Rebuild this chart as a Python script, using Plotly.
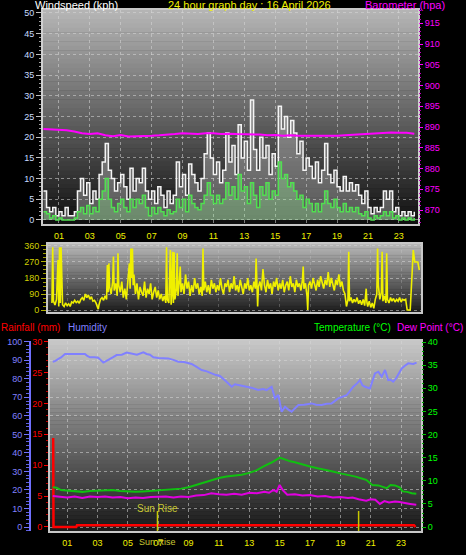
import plotly.graph_objects as go

W, H = 466, 555
FONT = "Liberation Sans"

# ---------------- data ----------------
HOUR_TICKS = [1, 3, 5, 7, 9, 11, 13, 15, 17, 19, 21, 23]
HOUR_LABELS = ["01", "03", "05", "07", "09", "11", "13", "15", "17", "19", "21", "23"]

WIND_HOURS = [
    0.0, 0.2, 0.4, 0.6, 0.8, 1.0, 1.2, 1.4, 1.6, 1.8,
    2.0, 2.2, 2.4, 2.6, 2.8, 3.0, 3.2, 3.4, 3.6, 3.8,
    4.0, 4.2, 4.4, 4.6, 4.8, 5.0, 5.2, 5.4, 5.6, 5.8,
    6.0, 6.2, 6.4, 6.6, 6.8, 7.0, 7.2, 7.4, 7.6, 7.8,
    8.0, 8.2, 8.4, 8.6, 8.8, 9.0, 9.2, 9.4, 9.6, 9.8,
    10.0, 10.2, 10.4, 10.6, 10.8, 11.0, 11.2, 11.4, 11.6, 11.8,
    12.0, 12.2, 12.4, 12.6, 12.8, 13.0, 13.2, 13.4, 13.6, 13.8,
    14.0, 14.2, 14.4, 14.6, 14.8, 15.0, 15.2, 15.4, 15.6, 15.8,
    16.0, 16.2, 16.4, 16.6, 16.8, 17.0, 17.2, 17.4, 17.6, 17.8,
    18.0, 18.2, 18.4, 18.6, 18.8, 19.0, 19.2, 19.4, 19.6, 19.8,
    20.0, 20.2, 20.4, 20.6, 20.8, 21.0, 21.2, 21.4, 21.6, 21.8,
    22.0, 22.2, 22.4, 22.6, 22.8, 23.0, 23.2, 23.4, 23.6, 23.8,
    24.0,
]
WIND_GUST = [
    7, 3, 2, 3, 1, 2, 1, 3, 1, 1,
    2, 7, 10, 6, 9, 4, 7, 5, 11, 14,
    18.5, 12, 10, 7, 9, 11, 8, 5, 12.5, 7,
    10, 9, 12.5, 7, 5, 7, 4, 8, 6, 3,
    7, 4, 6, 14, 8, 11, 6, 13.5, 11, 9,
    7, 10, 16, 21, 15, 11, 14, 9, 12, 21,
    14, 18, 11, 23, 15, 19, 12, 29, 17, 12,
    20, 15, 18, 11, 16, 13, 27.5, 22, 25, 20,
    24, 21, 16, 19, 12, 15, 13, 10, 14, 9,
    12, 18.5, 11, 9, 12, 8, 7, 10.5, 7, 9,
    7, 8.5, 6, 4, 7, 3, 1.5, 3, 2, 3,
    7, 5, 7, 2, 3, 1, 2, 1, 2, 1,
    2,
]
WIND_SPEED = [
    2, 1.5, 0.5, 1, 0, 0.5, 0, 0, 0, 0,
    0.5, 2, 3, 1.5, 3.5, 1.5, 3, 2, 5, 7,
    10, 5, 3, 2, 4, 5, 3, 2, 5, 3,
    5, 4, 6, 3, 1, 3, 1.5, 3, 2, 1,
    2.5, 1.5, 2, 5, 3, 5, 2, 6, 4, 3,
    2.5, 4, 6, 9, 6, 4, 6, 4, 5, 9,
    6, 8, 5, 11, 7, 8, 4, 9, 6, 3,
    8, 6, 9, 5, 7, 6, 14, 10, 11, 8,
    9, 7, 5, 6, 3, 5, 4, 2, 4, 2,
    4, 7, 4, 3, 5, 3, 2, 4, 2, 3,
    2, 3, 1.5, 1, 2, 0.5, 0, 1, 0.5, 1,
    2, 1, 2, 0.5, 1, 0, 0.5, 0, 0.5, 0,
    0.5,
]

BARO_HOURS = [0.0, 0.5, 1.0, 1.5, 2.0, 2.5, 3.0, 3.5, 4.0, 4.5, 5.0, 5.5, 6.0, 6.5, 7.0, 7.5,
              8.0, 8.5, 9.0, 9.5, 10.0, 10.5, 11.0, 11.5, 12.0, 12.5, 13.0, 13.5, 14.0, 14.5,
              15.0, 15.5, 16.0, 16.5, 17.0, 17.5, 18.0, 18.5, 19.0, 19.5, 20.0, 20.5, 21.0,
              21.5, 22.0, 22.5, 23.0, 23.5, 24.0]
BARO_HPA = [889.5, 889.4, 889.3, 889.2, 888.9, 888.5, 888.3, 888.5, 888.0, 887.8, 888.1, 887.7,
            887.8, 887.8, 887.9, 888.0, 888.1, 888.3, 888.5, 888.4, 888.3, 888.5, 888.5, 888.3,
            888.4, 888.3, 888.3, 888.2, 888.2, 888.0, 888.1, 887.9, 888.0, 887.9, 887.9, 887.8,
            887.9, 887.8, 887.9, 888.0, 888.1, 888.2, 888.3, 888.5, 888.5, 888.7, 888.6, 888.6,
            888.4]

DIR_PTS = [
    (0.0, 40), (0.05, 352), (0.1, 50), (0.2, 28), (0.3, 60), (0.4, 281), (0.45, 20), (0.5, 352),
    (0.55, 40), (0.6, 352), (0.7, 30), (0.8, 20), (0.9, 40), (1.0, 25), (1.1, 35), (1.2, 20),
    (1.3, 45), (1.4, 40), (1.5, 55), (1.6, 42), (1.7, 50), (1.8, 38), (1.9, 60), (2.0, 70),
    (2.1, 55), (2.2, 90), (2.3, 70), (2.4, 85), (2.5, 60), (2.6, 75), (2.7, 50), (2.8, 55),
    (2.9, 40), (3.0, 20), (3.05, 5), (3.1, 30), (3.2, 60), (3.3, 70), (3.4, 55), (3.5, 80),
    (3.6, 60), (3.65, 253), (3.7, 100), (3.75, 262), (3.8, 130), (3.9, 90), (4.0, 160),
    (4.05, 300), (4.1, 110), (4.2, 150), (4.3, 80), (4.35, 319), (4.4, 140), (4.5, 100),
    (4.6, 160), (4.7, 70), (4.8, 120), (4.9, 60), (5.0, 150), (5.1, 262), (5.15, 120),
    (5.2, 346), (5.25, 180), (5.3, 346), (5.35, 140), (5.4, 200), (5.5, 90), (5.6, 150),
    (5.7, 60), (5.8, 130), (5.9, 100), (6.0, 80), (6.1, 160), (6.2, 70), (6.3, 120), (6.4, 90),
    (6.5, 150), (6.6, 60), (6.7, 100), (6.8, 130), (6.9, 70), (7.0, 110), (7.1, 60), (7.2, 90),
    (7.3, 50), (7.4, 80), (7.5, 40), (7.55, 352), (7.6, 60), (7.7, 40), (7.8, 337), (7.85, 30),
    (7.9, 100), (7.95, 328), (8.0, 40), (8.05, 325), (8.1, 60), (8.2, 120), (8.25, 319),
    (8.3, 80), (8.4, 170), (8.45, 244), (8.5, 100), (8.6, 150), (8.7, 90), (8.8, 200),
    (8.9, 120), (9.0, 160), (9.1, 80), (9.2, 140), (9.3, 100), (9.4, 180), (9.5, 120),
    (9.6, 150), (9.7, 90), (9.8, 130), (9.9, 80), (9.95, 346), (10.0, 110), (10.1, 160),
    (10.2, 100), (10.3, 140), (10.4, 90), (10.5, 170), (10.6, 120), (10.7, 150), (10.8, 100),
    (10.9, 140), (11.0, 110), (11.1, 180), (11.2, 120), (11.3, 90), (11.4, 150), (11.5, 130),
    (11.6, 170), (11.7, 100), (11.8, 150), (11.9, 120), (12.0, 190), (12.1, 110), (12.2, 140),
    (12.3, 100), (12.4, 170), (12.5, 130), (12.6, 90), (12.7, 150), (12.8, 120), (12.9, 180),
    (13.0, 110), (13.1, 140), (13.2, 100), (13.3, 160), (13.4, 120), (13.45, 290), (13.5, 70),
    (13.55, 20), (13.6, 130), (13.7, 160), (13.8, 110), (13.9, 230), (14.0, 140), (14.1, 100),
    (14.2, 170), (14.3, 120), (14.4, 150), (14.5, 90), (14.6, 160), (14.7, 130), (14.8, 180),
    (14.9, 110), (15.0, 150), (15.1, 120), (15.2, 170), (15.3, 100), (15.4, 140), (15.5, 160),
    (15.6, 110), (15.7, 190), (15.8, 130), (15.9, 150), (16.0, 100), (16.1, 170), (16.2, 130),
    (16.3, 150), (16.4, 110), (16.5, 170), (16.55, 244), (16.6, 120), (16.7, 150), (16.8, 80),
    (16.85, 0), (16.9, 140), (17.0, 160), (17.1, 120), (17.2, 180), (17.3, 140), (17.4, 110),
    (17.5, 170), (17.6, 130), (17.7, 190), (17.8, 150), (17.9, 120), (18.0, 170), (18.1, 140),
    (18.2, 213), (18.3, 130), (18.4, 180), (18.5, 150), (18.6, 110), (18.7, 170), (18.8, 140),
    (18.9, 200), (19.0, 130), (19.1, 160), (19.2, 110), (19.3, 90), (19.4, 20), (19.5, 60),
    (19.55, 328), (19.6, 50), (19.7, 70), (19.8, 40), (19.9, 60), (20.0, 45), (20.1, 70),
    (20.2, 35), (20.3, 55), (20.4, 30), (20.5, 60), (20.6, 25), (20.7, 120), (20.75, 40),
    (20.8, 20), (20.9, 50), (21.0, 15), (21.1, 40), (21.2, 10), (21.3, 60), (21.4, 90),
    (21.45, 346), (21.5, 140), (21.6, 60), (21.7, 100), (21.75, 328), (21.8, 50), (21.9, 80),
    (22.0, 40), (22.05, 319), (22.1, 60), (22.2, 40), (22.3, 70), (22.4, 50), (22.5, 65),
    (22.6, 45), (22.7, 60), (22.8, 50), (22.9, 70), (23.0, 45), (23.1, 60), (23.2, 55),
    (23.3, 60), (23.4, 0), (23.6, 0), (23.7, 169), (23.8, 337), (23.9, 270), (24.1, 270),
    (24.2, 225),
]

HUM_PTS = [
    (0.05, 89.2), (0.2, 89.5), (0.4, 90.6), (0.6, 91.5), (0.86, 93.4), (1.2, 93.4), (1.6, 93.4),
    (2.0, 93.4), (2.17, 93.4), (2.3, 92.5), (2.5, 91.6), (2.8, 91.6), (3.05, 91.3), (3.2, 90.2),
    (3.38, 88.7), (3.5, 89.2), (3.71, 90.0), (4.0, 91.5), (4.26, 92.8), (4.6, 93.0), (4.92, 94.1),
    (5.25, 93.4), (5.6, 93.0), (6.02, 94.3), (6.24, 93.4), (6.45, 93.0), (6.68, 91.6), (7.0, 91.2),
    (7.3, 91.2), (7.66, 91.0), (8.0, 90.2), (8.32, 89.2), (8.7, 89.0), (9.2, 88.0), (9.5, 86.5),
    (9.86, 84.7), (10.2, 84.0), (10.52, 82.9), (10.8, 82.0), (11.07, 81.5), (11.3, 80.0),
    (11.5, 78.4), (11.84, 75.7), (12.05, 77.0), (12.27, 76.6), (12.6, 76.0), (12.93, 75.7),
    (13.2, 75.0), (13.59, 73.9), (13.9, 74.5), (14.14, 73.9), (14.3, 75.0), (14.47, 75.7),
    (14.69, 69.4), (14.91, 71.2), (15.13, 62.2), (15.35, 64.9), (15.55, 63.5), (15.79, 62.2),
    (16.0, 64.0), (16.23, 65.8), (16.6, 66.0), (17.1, 66.7), (17.4, 66.0), (17.77, 65.8),
    (18.1, 66.5), (18.42, 66.7), (18.86, 69.4), (19.2, 70.5), (19.41, 71.2), (19.6, 73.0),
    (19.85, 75.7), (20.1, 77.5), (20.29, 79.3), (20.45, 76.5), (20.62, 75.7), (20.95, 74.8),
    (21.1, 78.0), (21.28, 82.9), (21.5, 83.8), (21.72, 81.1), (21.94, 84.7), (22.15, 79.3),
    (22.3, 79.5), (22.48, 78.4), (22.65, 80.0), (22.81, 82.0), (23.04, 85.6), (23.25, 87.0),
    (23.47, 88.3), (23.8, 88.0), (24.02, 88.7),
]

TEMP_PTS = [
    (0.05, 8.6), (0.3, 8.5), (0.6, 8.0), (1.0, 7.9), (1.5, 7.8), (2.0, 7.6), (2.5, 7.8),
    (3.0, 7.9), (3.5, 8.0), (4.0, 8.0), (4.5, 7.8), (5.0, 7.7), (5.5, 7.6), (6.0, 7.7),
    (6.5, 7.8), (7.0, 7.9), (7.5, 8.0), (8.0, 8.1), (8.5, 8.3), (9.0, 8.6), (9.5, 9.1),
    (10.0, 9.7), (10.5, 10.2), (11.0, 10.6), (11.5, 10.9), (12.0, 11.1), (12.5, 11.3),
    (13.0, 11.7), (13.5, 12.3), (14.0, 13.2), (14.5, 14.0), (15.0, 15.0), (15.3, 14.6),
    (15.7, 14.2), (16.0, 14.0), (16.5, 13.5), (17.0, 13.1), (17.5, 12.7), (18.0, 12.4),
    (18.5, 12.0), (19.0, 11.6), (19.5, 11.3), (20.0, 10.9), (20.4, 10.5), (20.7, 10.2),
    (21.1, 9.1), (21.5, 9.0), (22.05, 8.4), (22.3, 9.1), (22.6, 9.0), (22.9, 8.6), (23.1, 7.7),
    (23.4, 7.6), (23.7, 7.3), (24.0, 7.2),
]

DEW_PTS = [
    (0.05, 6.7), (0.5, 6.6), (1.0, 6.4), (1.5, 6.6), (2.0, 6.3), (2.5, 6.6), (3.0, 6.5),
    (3.5, 6.6), (4.0, 6.4), (4.5, 6.5), (5.0, 6.2), (5.5, 6.4), (6.0, 6.3), (6.5, 6.5),
    (7.0, 6.6), (7.5, 6.6), (8.0, 6.4), (8.5, 6.6), (9.0, 6.5), (9.5, 6.8), (10.0, 6.9),
    (10.5, 7.3), (11.0, 7.1), (11.5, 7.0), (12.0, 7.2), (12.5, 7.0), (13.0, 7.4), (13.5, 7.3),
    (14.0, 7.6), (14.3, 7.4), (14.6, 8.0), (14.8, 7.6), (15.0, 9.1), (15.2, 8.0), (15.5, 7.0),
    (16.0, 7.1), (16.5, 6.8), (17.0, 6.9), (17.5, 6.6), (18.0, 6.7), (18.5, 6.4), (19.0, 6.5),
    (19.5, 6.3), (19.8, 6.4), (20.2, 6.0), (20.5, 5.8), (20.7, 5.7), (21.0, 6.0), (21.3, 5.9),
    (21.6, 5.0), (21.9, 5.6), (22.2, 5.3), (22.6, 5.5), (22.9, 5.4), (23.3, 5.1), (23.6, 5.0),
    (24.0, 4.8),
]

RAIN_HOURS = [0.0, 0.08, 0.1, 1.6, 1.65, 23.85, 23.95]
RAIN_MM = [14.2, 14.2, 0.0, 0.0, 0.3, 0.3, 0.0]

SUNRISE_H = 6.95
SUNSET_H = 20.2
CHART_TITLE = "24 hour graph day : 16 April 2026"

# ---------------- layout helpers ----------------
def fx(p):
    return p / W


def fy(p):
    return 1 - p / H


TOP = (43, 418, 10, 224)
MID = (48, 421, 244, 312)
BOT = (50, 421, 341, 531)

GRID = "rgba(215,215,215,0.55)"


def gradient(panel, c_top, c_bot, n=48):
    l, r, t, b = panel
    shapes = []
    h = (b - t) / n
    for i in range(n):
        f = (i + 0.5) / n
        c = [round(c_top[k] + (c_bot[k] - c_top[k]) * f) for k in range(3)]
        shapes.append(dict(type="rect", xref="paper", yref="paper", layer="below",
                           x0=fx(l), x1=fx(r), y0=fy(t + (i + 1) * h + 0.5), y1=fy(t + i * h),
                           fillcolor="rgb(%d,%d,%d)" % tuple(c), line=dict(width=0)))
    return shapes


def unz(pts):
    return [p[0] for p in pts], [p[1] for p in pts]


fig = go.Figure()

# top panel traces
fig.add_trace(go.Scatter(x=WIND_HOURS, y=WIND_GUST, mode="lines", line_shape="hv",
                         line=dict(color="#f4f4f4", width=1.5), fill="tozeroy",
                         fillcolor="rgba(215,215,215,0.35)", xaxis="x", yaxis="y"))
fig.add_trace(go.Scatter(x=WIND_HOURS, y=WIND_SPEED, mode="lines", line_shape="hv",
                         line=dict(color="#50e050", width=1.5), fill="tozeroy",
                         fillcolor="rgba(160,255,160,0.30)", xaxis="x", yaxis="y"))
fig.add_trace(go.Scatter(x=BARO_HOURS, y=BARO_HPA, mode="lines",
                         line=dict(color="#ff00ff", width=2), xaxis="x", yaxis="y2"))

# middle panel
dx, dy = unz(DIR_PTS)
fig.add_trace(go.Scatter(x=dx, y=dy, mode="lines", line=dict(color="#f0f000", width=1.6),
                         xaxis="x2", yaxis="y3"))

# bottom panel
hx, hy = unz(HUM_PTS)
tx, ty = unz(TEMP_PTS)
wx, wy = unz(DEW_PTS)
fig.add_trace(go.Scatter(x=hx, y=hy, mode="lines", line=dict(color="#8080ff", width=2),
                         xaxis="x3", yaxis="y6"))
fig.add_trace(go.Scatter(x=tx, y=ty, mode="lines", line=dict(color="#10c010", width=2),
                         xaxis="x3", yaxis="y7"))
fig.add_trace(go.Scatter(x=wx, y=wy, mode="lines", line=dict(color="#e000e0", width=2),
                         xaxis="x3", yaxis="y7"))
fig.add_trace(go.Scatter(x=RAIN_HOURS, y=RAIN_MM, mode="lines", line=dict(color="#ff0000", width=2.5),
                         xaxis="x3", yaxis="y5"))

tickfont_x = dict(family=FONT, size=9, color="#f0f000")
xcommon = dict(tickmode="array", tickvals=HOUR_TICKS, ticktext=HOUR_LABELS, showgrid=True,
               gridcolor=GRID, griddash="dot", gridwidth=1, zeroline=False, showline=True,
               linecolor="#c8c8c8", linewidth=2, mirror=True, ticks="", tickfont=tickfont_x,
               automargin=False)

layout = dict(
    width=W, height=H, margin=dict(l=0, r=0, t=0, b=0, pad=0, autoexpand=False),
    paper_bgcolor="#000000", plot_bgcolor="rgba(0,0,0,0)", showlegend=False,
    font=dict(family=FONT, size=9, color="#ffffff"),
    xaxis=dict(xcommon, domain=[fx(TOP[0]), fx(TOP[1])], anchor="y", range=[-0.03, 24.24],
               ticklabelstandoff=2),
    yaxis=dict(domain=[fy(TOP[3]), fy(TOP[2])], range=[-0.97, 50.72], tickmode="linear",
               tick0=0, dtick=5, showgrid=True, gridcolor=GRID, griddash="dot", zeroline=False,
               showline=True, linecolor="#d0d0d0", linewidth=2, mirror=True, ticks="outside",
               ticklen=5, tickcolor="#c0c0c0", tickfont=dict(family=FONT, size=9, color="#c8dcff"),
               automargin=False,
               minor=dict(dtick=1, ticks="outside", ticklen=2, tickcolor="#a0a0a0", showgrid=False)),
    yaxis2=dict(overlaying="y", side="right", anchor="x", range=[866.63, 918.2], tickmode="linear",
                tick0=870, dtick=5, showgrid=False, zeroline=False, ticks="outside", ticklen=4,
                tickcolor="#ff00ff", tickfont=dict(family=FONT, size=9, color="#ff00ff"),
                automargin=False,
                minor=dict(dtick=1, ticks="outside", ticklen=2, tickcolor="#c000c0")),
    xaxis2=dict(xcommon, domain=[fx(MID[0]), fx(MID[1])], anchor="y3", range=[-0.26, 24.31],
                showticklabels=False, gridcolor="rgba(215,215,215,0.25)"),
    yaxis3=dict(domain=[fy(MID[3]), fy(MID[2])], anchor="x2", range=[-11, 371], tickmode="array",
                tickvals=[0, 90, 180, 270, 360], showgrid=True, gridcolor=GRID, griddash="dot",
                zeroline=False, showline=True, linecolor="#c8c8c8", linewidth=2, mirror=True,
                ticks="outside", ticklen=5, tickcolor="#b0b000", automargin=False,
                tickfont=dict(family=FONT, size=9, color="#d0d000"),
                minor=dict(tickvals=[22.5, 45, 67.5, 112.5, 135, 157.5, 202.5, 225, 247.5, 292.5,
                                     315, 337.5], ticks="outside", ticklen=3, tickcolor="#a0a000")),
    yaxis4=dict(overlaying="y3", side="right", anchor="x2", range=[-11, 371], tickmode="array",
                tickvals=[0, 90, 180, 270, 360], ticktext=["N", "E", "S", "W", "N"],
                showgrid=False, zeroline=False, ticks="", ticklabelstandoff=12, automargin=False,
                tickfont=dict(family=FONT, size=13, color="#f0f000")),
    xaxis3=dict(xcommon, domain=[fx(BOT[0]), fx(BOT[1])], anchor="y5", range=[-0.13, 24.31],
                ticklabelstandoff=2),
    yaxis5=dict(domain=[fy(BOT[3]), fy(BOT[2])], anchor="x3", range=[-0.65, 30.11],
                tickmode="linear", tick0=0, dtick=5, showgrid=False, zeroline=False,
                showline=True, linecolor="#c8c8c8", linewidth=2, mirror=True, ticks="outside",
                ticklen=4, tickcolor="#ff0000", automargin=False,
                tickfont=dict(family=FONT, size=9, color="#ff0000"),
                minor=dict(dtick=1, ticks="outside", ticklen=2, tickcolor="#c00000")),
    yaxis6=dict(overlaying="y5", anchor="free", position=fx(30), side="left",
                range=[-2.16, 100.38], tickmode="linear", tick0=0, dtick=10, showgrid=True,
                gridcolor=GRID, griddash="dot", zeroline=False, showline=True,
                linecolor="#7070ff", linewidth=2, ticks="outside", ticklen=5, tickcolor="#7070ff",
                automargin=False, tickfont=dict(family=FONT, size=9, color="#8080ff"),
                minor=dict(dtick=2, ticks="outside", ticklen=3, tickcolor="#6060e0")),
    yaxis7=dict(overlaying="y5", side="right", anchor="x3", range=[-0.86, 40.22],
                tickmode="linear", tick0=0, dtick=5, showgrid=False, zeroline=False,
                ticks="outside", ticklen=4, tickcolor="#00c000", automargin=False,
                tickfont=dict(family=FONT, size=9, color="#00ff00"),
                minor=dict(dtick=1, ticks="outside", ticklen=2, tickcolor="#00a000")),
)
fig.update_layout(**layout)

shapes = []
shapes += gradient(TOP, (182, 182, 182), (14, 14, 14))
shapes += gradient(MID, (185, 185, 185), (28, 28, 28))
shapes += gradient(BOT, (200, 200, 200), (24, 24, 24))
for hr in (SUNRISE_H, SUNSET_H):
    shapes.append(dict(type="line", xref="x3", yref="paper", x0=hr, x1=hr,
                       y0=fy(BOT[3]), y1=fy(511), line=dict(color="#c8c800", width=1.5)))
fig.update_layout(shapes=shapes)


def ann(text, xp, yp, color, size=11, xanchor="center"):
    return dict(text=text, x=fx(xp), y=fy(yp), xref="paper", yref="paper", showarrow=False,
                xanchor=xanchor, yanchor="middle", borderpad=0,
                font=dict(family=FONT, size=size, color=color))


fig.update_layout(annotations=[
    ann("Windspeed (kph)", 34, 5, "#ffffff", 11, "left"),
    ann(CHART_TITLE, 250, 5, "#f0f000", 11),
    ann("Barometer (hpa)", 446, 5, "#ff00ff", 11, "right"),
    ann("Rainfall (mm)", 0, 327, "#ff0000", 10, "left"),
    ann("Humidity", 67, 327, "#8080ff", 10, "left"),
    ann("Temperature (°C)", 392, 327, "#00ff00", 10, "right"),
    ann("Dew Point (°C)", 464, 327, "#ff00ff", 10, "right"),
    dict(text="Sun Rise", x=SUNRISE_H, xref="x3", y=fy(508), yref="paper", showarrow=False,
         xanchor="center", yanchor="middle", font=dict(family=FONT, size=10, color="#c8c832")),
    dict(text="Sun Rise", x=SUNRISE_H, xref="x3", y=fy(542), yref="paper", showarrow=False,
         xanchor="center", yanchor="middle", font=dict(family=FONT, size=9, color="#c8c832")),
])

fig.write_html("out.html", config={"displayModeBar": False},
               post_script="document.body.style.margin='0';document.body.style.background='#000';")
